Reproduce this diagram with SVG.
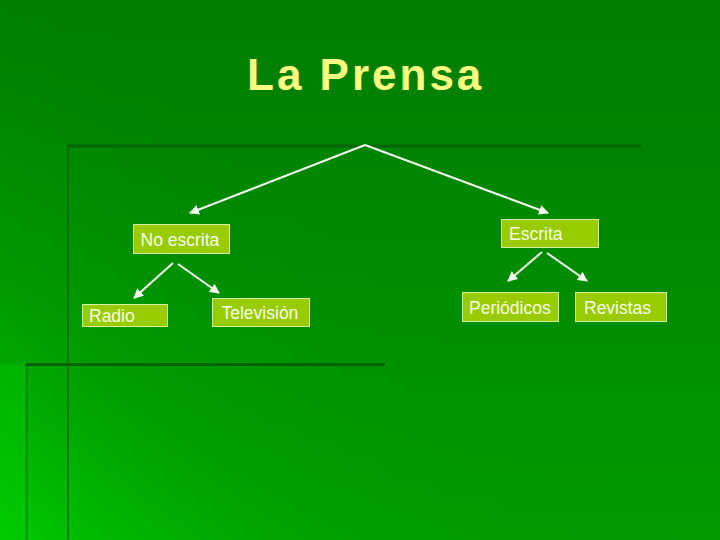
<svg xmlns="http://www.w3.org/2000/svg" width="720" height="540" viewBox="0 0 720 540">
  <defs>
    <linearGradient id="bg" x1="0" y1="0" x2="0" y2="1">
      <stop offset="0" stop-color="#007c00"/>
      <stop offset="1" stop-color="#009a00"/>
    </linearGradient>
    <linearGradient id="glow" gradientUnits="userSpaceOnUse" x1="0" y1="540" x2="300" y2="200">
      <stop offset="0" stop-color="#00d000" stop-opacity="0.9"/>
      <stop offset="0.45" stop-color="#00b000" stop-opacity="0.35"/>
      <stop offset="1" stop-color="#009000" stop-opacity="0"/>
    </linearGradient>
    <marker id="ah" viewBox="0 0 10 10" refX="9" refY="5" markerWidth="5" markerHeight="5" markerUnits="strokeWidth" orient="auto">
      <path d="M0,0 L10,5 L0,10 Z" fill="#f4fff0"/>
    </marker>
    <style>
      .deco { stroke: #006400; fill: none; }
      .conn { stroke: #f4fff0; stroke-width: 2; fill: none; marker-end: url(#ah); }
      .box { fill: #99cc00; stroke: #d8f0a0; stroke-width: 1; }
      .lbl { font-family: "Liberation Sans", Arial, sans-serif; font-size: 17.5px; fill: #f6ffe8; }
      .title { font-family: "Liberation Sans", Arial, sans-serif; font-size: 44px; font-weight: bold; fill: #ffff80; letter-spacing: 3px; }
    </style>
  </defs>

  <g id="background">
    <rect x="0" y="0" width="720" height="540" fill="url(#bg)"/>
    <rect x="0" y="0" width="720" height="540" fill="url(#glow)"/>
    <rect x="0" y="364" width="26" height="176" fill="#00cc00" opacity="0.35"/>
    <line class="deco" x1="67" y1="146" x2="641" y2="146" stroke-width="3"/>
    <line class="deco" x1="68" y1="145" x2="68" y2="540" stroke-width="2" opacity="0.7"/>
    <line class="deco" x1="25" y1="364.5" x2="385" y2="364.5" stroke-width="3"/>
    <line class="deco" x1="26.5" y1="364" x2="26.5" y2="540" stroke-width="2" opacity="0.5"/>
  </g>

  <g id="title">
    <text class="title" x="247" y="90">La Prensa</text>
  </g>

  <g id="connectors">
    <polyline class="conn" points="365,145 190,213"/>
    <polyline class="conn" points="365,145 548,213"/>
    <line class="conn" x1="173" y1="263" x2="134" y2="298"/>
    <line class="conn" x1="178" y1="264" x2="219" y2="293"/>
    <line class="conn" x1="542" y1="252" x2="508" y2="281"/>
    <line class="conn" x1="547" y1="253" x2="587" y2="281"/>
  </g>

  <g id="no-escrita">
    <rect class="box" x="133.5" y="224.5" width="96" height="29"/>
    <text class="lbl" x="140.5" y="245.5">No escrita</text>
  </g>
  <g id="radio">
    <rect class="box" x="82.5" y="304.5" width="85" height="22"/>
    <text class="lbl" x="89" y="321.5">Radio</text>
  </g>
  <g id="television">
    <rect class="box" x="212.5" y="298.5" width="97" height="28"/>
    <text class="lbl" x="221.5" y="318.5">Televisión</text>
  </g>
  <g id="escrita">
    <rect class="box" x="501.5" y="219.5" width="97" height="28"/>
    <text class="lbl" x="509" y="239.5">Escrita</text>
  </g>
  <g id="periodicos">
    <rect class="box" x="462.5" y="292.5" width="96" height="29"/>
    <text class="lbl" x="469" y="313.5">Periódicos</text>
  </g>
  <g id="revistas">
    <rect class="box" x="575.5" y="292.5" width="91" height="29"/>
    <text class="lbl" x="584" y="313.5">Revistas</text>
  </g>
</svg>
